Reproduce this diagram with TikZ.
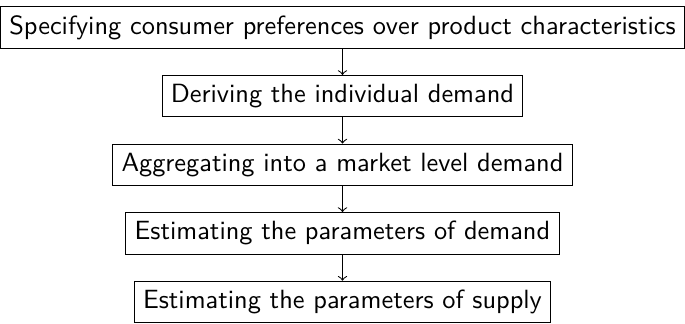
\documentclass[tikz,border=0pt]{standalone}
\renewcommand{\familydefault}{\sfdefault}
\begin{document}
\begin{tikzpicture}[
  stage/.style={draw, rectangle},
  flow/.style={->}
]
\node[stage] (pref) at (0,0) {Specifying consumer preferences over product characteristics};
\node[stage] (indiv) at (0,-0.915) {Deriving the individual demand};
\node[stage] (agg) at (0,-1.83) {Aggregating into a market level demand};
\node[stage] (estd) at (0,-2.745) {Estimating the parameters of demand};
\node[stage] (ests) at (0,-3.66) {Estimating the parameters of supply};
\draw[flow] (pref) -- (indiv);
\draw[flow] (indiv) -- (agg);
\draw[flow] (agg) -- (estd);
\draw[flow] (estd) -- (ests);
\useasboundingbox ([yshift=2.3pt]pref.north west) rectangle ([yshift=0.8pt]ests.south -| pref.east);
\end{tikzpicture}
\end{document}
